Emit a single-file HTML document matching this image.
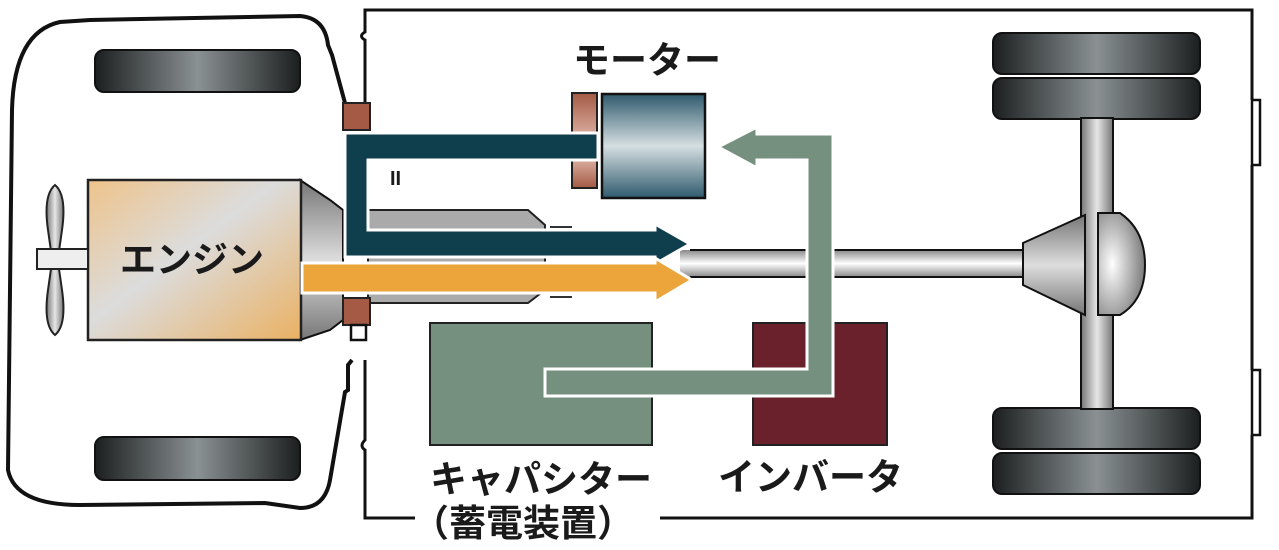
<!DOCTYPE html>
<html><head><meta charset="utf-8"><style>
html,body{margin:0;padding:0;background:#fff;}
svg{display:block;}
text{font-family:"Liberation Sans","Noto Sans CJK JP",sans-serif;font-weight:bold;fill:#1a1a1a;}
</style></head><body>
<svg width="1279" height="550" viewBox="0 0 1279 550" xmlns="http://www.w3.org/2000/svg">
<defs>
<linearGradient id="tire" x1="0" x2="1" y1="0" y2="0">
<stop offset="0" stop-color="#1c1f20"/><stop offset="0.5" stop-color="#8a9193"/><stop offset="1" stop-color="#1c1f20"/></linearGradient>
<linearGradient id="eng" x1="0" y1="0" x2="1" y2="1">
<stop offset="0" stop-color="#eec38a"/><stop offset="0.45" stop-color="#dcdcdc"/><stop offset="1" stop-color="#eab163"/></linearGradient>
<linearGradient id="motor" x1="0" y1="0" x2="0" y2="1">
<stop offset="0" stop-color="#2f5a6d"/><stop offset="0.5" stop-color="#d5dfe1"/><stop offset="1" stop-color="#2f5a6d"/></linearGradient>
<linearGradient id="fl" x1="0" y1="0" x2="0" y2="1">
<stop offset="0" stop-color="#a45a44"/><stop offset="0.6" stop-color="#ecc9bc"/><stop offset="1" stop-color="#a45a44"/></linearGradient>
<linearGradient id="shaftv" x1="0" y1="0" x2="0" y2="1">
<stop offset="0" stop-color="#888"/><stop offset="0.5" stop-color="#fff"/><stop offset="1" stop-color="#888"/></linearGradient>
<linearGradient id="shafth" x1="0" y1="0" x2="1" y2="0">
<stop offset="0" stop-color="#777"/><stop offset="0.5" stop-color="#e6e6e6"/><stop offset="1" stop-color="#777"/></linearGradient>
<radialGradient id="dome" cx="0.3" cy="0.5" r="0.8">
<stop offset="0" stop-color="#fff"/><stop offset="1" stop-color="#666"/></radialGradient>
<linearGradient id="cone" x1="0" y1="0" x2="0" y2="1">
<stop offset="0" stop-color="#777"/><stop offset="0.5" stop-color="#ddd"/><stop offset="1" stop-color="#777"/></linearGradient>
</defs>

<!-- cab outline -->
<path d="M345,103 L332,55 L328,45 Q325,18 300,16 L90,20 L60,22 Q14,32 12,110 L8,470 Q15,505 80,505 L265,503 L300,508 Q325,508 330,480 L345,392 L348,390 L348,365 L352,360" fill="none" stroke="#111" stroke-width="4"/>
<!-- body box -->
<path d="M365,103 L365,40 Q358,36 365,32 L365,10 L1252,10 L1252,100" fill="none" stroke="#111" stroke-width="3"/>
<path d="M1252,165 L1252,370 M1252,435 L1252,518 L660,518 M415,518 L365,518 L365,450 Q359,446 365,440 L365,360" fill="none" stroke="#111" stroke-width="3"/>
<rect x="1252" y="100" width="8" height="65" fill="none" stroke="#111" stroke-width="2.5"/>
<rect x="1252" y="370" width="8" height="65" fill="none" stroke="#111" stroke-width="2.5"/>

<!-- front tires -->
<rect x="95" y="50" width="205" height="42" rx="9" fill="url(#tire)" stroke="#111" stroke-width="2"/>
<rect x="95" y="437" width="205" height="43" rx="9" fill="url(#tire)" stroke="#111" stroke-width="2"/>
<!-- rear tires -->
<g fill="url(#tire)" stroke="#111" stroke-width="2">
<rect x="993" y="33" width="207" height="41" rx="9"/>
<rect x="993" y="78" width="207" height="41" rx="9"/>
<rect x="993" y="408" width="207" height="41" rx="9"/>
<rect x="993" y="453" width="207" height="41" rx="9"/>
</g>
<rect x="1081" y="118" width="32" height="291" fill="url(#shafth)" stroke="#111" stroke-width="2"/>
<!-- driveshaft -->
<rect x="680" y="250" width="345" height="27" fill="url(#shaftv)"/>
<line x1="690" y1="250" x2="1025" y2="250" stroke="#111" stroke-width="2"/>
<line x1="690" y1="277" x2="1025" y2="277" stroke="#111" stroke-width="2"/>
<!-- diff -->
<path d="M1023,243 L1085,215 L1085,315 L1023,285 Z" fill="url(#cone)" stroke="#111" stroke-width="2"/>
<path d="M1098,213 L1120,213 Q1145,230 1145,265 Q1145,300 1120,315 L1098,315 Z" fill="url(#dome)" stroke="#111" stroke-width="2"/>

<!-- gray shaft plate -->
<path d="M368,210 L528,210 L545,225 L545,290 L528,303 L368,303 Z" fill="#aaa" stroke="#222" stroke-width="2"/>
<line x1="550" y1="227" x2="572" y2="227" stroke="#333" stroke-width="2"/>
<line x1="550" y1="297" x2="572" y2="297" stroke="#333" stroke-width="2"/>

<!-- engine -->
<path d="M300,180 L330,200 L343,210 L343,320 L330,330 L300,340 Z" fill="url(#cone)" stroke="#111" stroke-width="2"/>
<rect x="88" y="180" width="213" height="160" fill="url(#eng)" stroke="#222" stroke-width="2.5"/>
<path d="M55,185 Q67,195 62,230 L58,258 L52,258 L48,230 Q43,195 55,185 Z" fill="url(#shafth)" stroke="#222" stroke-width="2"/>
<path d="M55,335 Q67,325 62,290 L58,262 L52,262 L48,290 Q43,325 55,335 Z" fill="url(#shafth)" stroke="#222" stroke-width="2"/>
<rect x="37" y="249" width="51" height="20" fill="#eee" stroke="#222" stroke-width="2"/>
<text x="120" y="272" font-size="36">エンジン</text>
<!-- flanges -->
<rect x="343" y="103" width="27" height="27" fill="#a45a44" stroke="#222" stroke-width="2"/>
<rect x="343" y="298" width="27" height="27" fill="#a45a44" stroke="#222" stroke-width="2"/>
<rect x="351" y="325" width="15" height="15" fill="#fff" stroke="#111" stroke-width="2.5"/>

<!-- motor -->
<rect x="572" y="93" width="25" height="95" fill="url(#fl)" stroke="#222" stroke-width="2"/>
<rect x="602" y="94" width="103" height="104" fill="url(#motor)" stroke="#111" stroke-width="2.5"/>

<!-- teal path -->
<path d="M345,133 L598,133 L598,160 L368,160 L368,230 L655,230 L655,224 L690,244 L655,264 L655,257 L345,257 Z" fill="#0f3e4c" stroke="#fff" stroke-width="3"/>
<!-- orange arrow -->
<path d="M302,263 L655,263 L655,258 L692,280 L655,302 L655,293 L302,293 Z" fill="#eba53a" stroke="#fff" stroke-width="3"/>
<text x="390" y="185" font-size="20" font-weight="normal">II</text>

<text x="573" y="73" font-size="37">モーター</text>

<!-- capacitor, inverter -->
<rect x="430" y="323" width="222" height="122" fill="#76907f" stroke="#222" stroke-width="2"/>
<rect x="753" y="323" width="134" height="122" fill="#6b212b" stroke="#222" stroke-width="2"/>
<!-- green path -->
<path d="M545,369 L807,369 L807,160 L757,160 L757,168 L718,147 L757,127 L757,134 L833,134 L833,396 L545,396 Z" fill="#76907f" stroke="#fff" stroke-width="3"/>

<text x="430" y="492" font-size="37">キャパシター</text>
<text x="412" y="536" font-size="37">（蓄電装置）</text>
<text x="718" y="490" font-size="37">インバータ</text>
</svg>
</body></html>
